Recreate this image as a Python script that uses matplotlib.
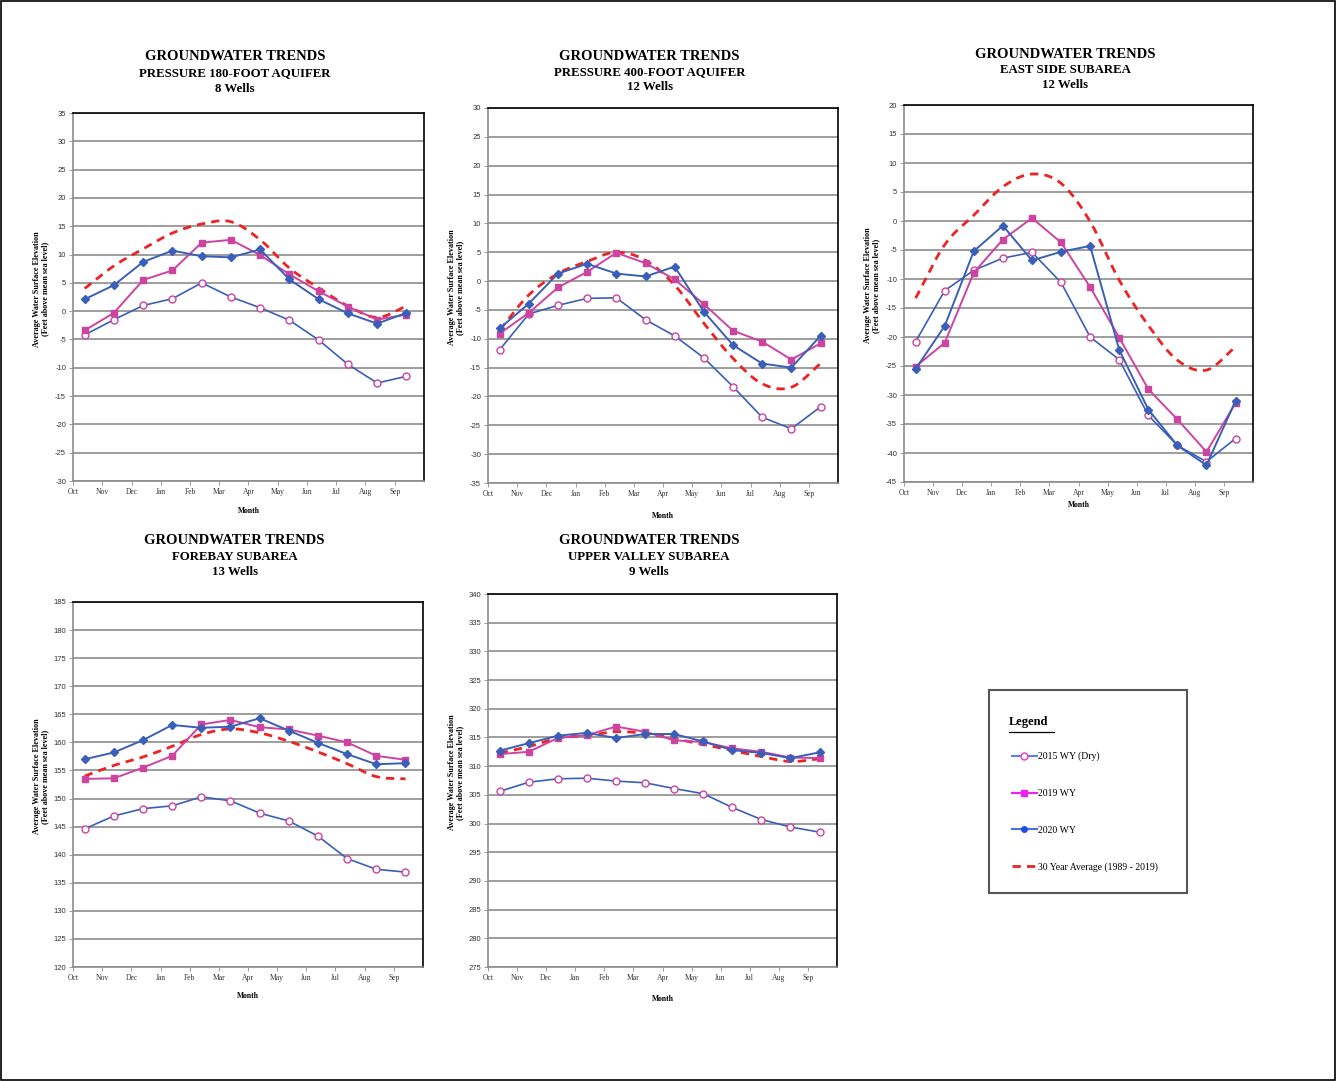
import numpy as np
import matplotlib
matplotlib.use("Agg")
import matplotlib.pyplot as plt
from matplotlib.lines import Line2D
from matplotlib.patches import Rectangle

plt.rcParams['axes.unicode_minus'] = False

W, H = 1336, 1081

months = ['Oct', 'Nov', 'Dec', 'Jan', 'Feb', 'Mar', 'Apr', 'May', 'Jun', 'Jul', 'Aug', 'Sep']
series_labels = ['2015 WY (Dry)', '2019 WY', '2020 WY', '30 Year Average (1989 - 2019)']

# Pressure 180-Foot Aquifer
p180_2015 = [-4.2, -1.5, 1.0, 2.2, 5.0, 2.5, 0.6, -1.6, -5.1, -9.4, -12.7, -11.5]
p180_2019 = [-3.4, -0.3, 5.5, 7.2, 12.1, 12.6, 9.9, 6.5, 3.5, 0.8, -1.5, -0.6]
p180_2020 = [2.1, 4.6, 8.7, 10.7, 9.7, 9.5, 10.9, 5.6, 2.1, -0.4, -2.2, -0.3]
p180_avg = [4.0, 8.0, 11.0, 13.8, 15.4, 15.8, 12.6, 7.6, 4.1, 0.9, -1.1, 0.9]

# Pressure 400-Foot Aquifer
p400_2015 = [-11.9, -5.7, -4.2, -3.0, -2.9, -6.7, -9.5, -13.3, -18.3, -23.6, -25.6, -21.8]
p400_2019 = [-9.1, -5.5, -1.1, 1.6, 4.9, 3.1, 0.3, -4.0, -8.6, -10.5, -13.6, -10.8]
p400_2020 = [-8.2, -3.9, 1.3, 3.0, 1.3, 0.8, 2.5, -5.3, -11.1, -14.3, -15.0, -9.5]
p400_avg = [-8.5, -2.4, 1.3, 3.4, 5.0, 3.6, -0.7, -7.3, -13.4, -17.8, -18.4, -14.3]

# East Side Subarea
east_2015 = [-20.8, -12.0, -8.5, -6.4, -5.4, -10.6, -20.0, -23.9, -33.5, -38.7, -41.5, -37.5]
east_2019 = [-25.1, -21.0, -8.9, -3.2, 0.5, -3.7, -11.4, -20.1, -29.0, -34.2, -39.8, -31.4]
east_2020 = [-25.5, -18.1, -5.2, -0.8, -6.8, -5.3, -4.3, -22.2, -32.5, -38.7, -42.1, -31.0]
east_avg = [-13.3, -4.1, 1.0, 5.9, 8.1, 6.5, -0.1, -10.2, -18.0, -24.0, -25.7, -21.7]

# Forebay Subarea
fore_2015 = [144.6, 146.9, 148.2, 148.7, 150.3, 149.6, 147.4, 146.0, 143.3, 139.3, 137.4, 136.9]
fore_2019 = [153.5, 153.6, 155.5, 157.6, 163.2, 164.0, 162.7, 162.3, 161.2, 160.0, 157.6, 156.9]
fore_2020 = [157.0, 158.2, 160.4, 163.1, 162.6, 162.8, 164.3, 162.1, 159.9, 157.9, 156.1, 156.3]
fore_avg = [154.0, 155.9, 157.4, 159.3, 161.4, 162.4, 161.7, 160.2, 158.3, 156.2, 153.9, 153.5]

# Upper Valley Subarea
upper_2015 = [305.6, 307.2, 307.8, 307.9, 307.4, 307.1, 306.1, 305.2, 302.8, 300.7, 299.4, 298.5]
upper_2019 = [312.1, 312.5, 314.9, 315.4, 316.9, 316.0, 314.5, 314.2, 313.1, 312.5, 311.5, 311.4]
upper_2020 = [312.7, 314.0, 315.3, 315.8, 314.9, 315.6, 315.6, 314.3, 312.8, 312.3, 311.4, 312.4]
upper_avg = [312.3, 313.4, 314.9, 315.3, 316.0, 315.7, 314.8, 313.8, 312.7, 311.7, 310.8, 311.3]

BLUE = '#3a5fb8'
MAGENTA = '#cc43a0'
RED = '#ee2222'
GRID = '#8c8c8c'
SERIF = 'Liberation Serif'
SANS = 'Liberation Sans'

panels = [
    dict(sub='PRESSURE 180-FOOT AQUIFER', wells='8 Wells', ylim=(-30, 35),
         data=(p180_2015, p180_2019, p180_2020, p180_avg),
         box=(73, 113, 424, 481), title_y=(57, 73, 89), month_y=511),
    dict(sub='PRESSURE 400-FOOT AQUIFER', wells='12 Wells', ylim=(-35, 30),
         data=(p400_2015, p400_2019, p400_2020, p400_avg),
         box=(488, 108, 838, 483), title_y=(56, 72, 87), month_y=516),
    dict(sub='EAST SIDE SUBAREA', wells='12 Wells', ylim=(-45, 20),
         data=(east_2015, east_2019, east_2020, east_avg),
         box=(904, 105, 1253, 482), title_y=(54, 70, 85), month_y=505),
    dict(sub='FOREBAY SUBAREA', wells='13 Wells', ylim=(120, 185),
         data=(fore_2015, fore_2019, fore_2020, fore_avg),
         box=(73, 602, 423, 967), title_y=(541, 557, 572), month_y=996),
    dict(sub='UPPER VALLEY SUBAREA', wells='9 Wells', ylim=(275, 340),
         data=(upper_2015, upper_2019, upper_2020, upper_avg),
         box=(488, 594, 837, 967), title_y=(541, 557, 572), month_y=999),
]


def fx(px):
    return px / W


def fy(py):
    return 1 - py / H


def smooth(x, y, n=20):
    # Catmull-Rom curve through the points, like Excel's smoothed line
    x = np.asarray(x, float)
    y = np.asarray(y, float)
    px = np.concatenate([[2 * x[0] - x[1]], x, [2 * x[-1] - x[-2]]])
    py = np.concatenate([[2 * y[0] - y[1]], y, [2 * y[-1] - y[-2]]])
    xs, ys = [], []
    t = np.linspace(0, 1, n, endpoint=False)
    for i in range(1, len(px) - 2):
        for arr, out in ((px, xs), (py, ys)):
            p0, p1, p2, p3 = arr[i - 1], arr[i], arr[i + 1], arr[i + 2]
            out.extend(0.5 * (2 * p1 + (-p0 + p2) * t + (2 * p0 - 5 * p1 + 4 * p2 - p3) * t ** 2
                              + (-p0 + 3 * p1 - 3 * p2 + p3) * t ** 3))
    xs.append(x[-1])
    ys.append(y[-1])
    return np.array(xs), np.array(ys)


fig = plt.figure(figsize=(W / 100, H / 100), dpi=100)
fig.patches.append(Rectangle((0.0008, 0.001), 0.9984, 0.998, transform=fig.transFigure,
                             fill=False, edgecolor='black', linewidth=1.2))

xpos = np.arange(12) + 0.4

for p in panels:
    l, t, r, b = p['box']
    ax = fig.add_axes([fx(l), fy(b), fx(r) - fx(l), fy(t) - fy(b)])
    d15, d19, d20, davg = p['data']

    sx, sy = smooth(xpos, davg)
    ax.plot(sx, sy, color=RED, lw=2.0, dashes=(3, 2.2), zorder=3)
    ax.plot(xpos, d15, color=BLUE, lw=1.2, marker='o', ms=5, mfc='white',
            mec=MAGENTA, mew=1.0, zorder=4)
    ax.plot(xpos, d19, color=MAGENTA, lw=1.4, marker='s', ms=5, mfc=MAGENTA,
            mec=MAGENTA, zorder=5)
    ax.plot(xpos, d20, color=BLUE, lw=1.4, marker='D', ms=4.5, mfc=BLUE,
            mec=BLUE, zorder=6)

    lo, hi = p['ylim']
    ax.set_ylim(lo, hi)
    ax.set_xlim(0, 12)
    ax.set_yticks(np.arange(lo, hi + 1, 5))
    ax.set_xticks(np.arange(12))
    ax.set_xticklabels(months)
    ax.tick_params(labelsize=5.5, length=3, width=0.6, color=GRID, pad=2, labelcolor='#333333')
    for lab in ax.get_xticklabels():
        lab.set_family(SERIF)
    for lab in ax.get_yticklabels():
        lab.set_family(SANS)
    ax.yaxis.grid(True, color=GRID, lw=1.2)
    ax.set_axisbelow(True)
    ax.spines['left'].set_color(GRID)
    ax.spines['bottom'].set_color(GRID)
    ax.spines['top'].set_color('black')
    ax.spines['right'].set_color('black')
    for s in ax.spines.values():
        s.set_linewidth(1.2)

    cx = fx((l + r) / 2) - 0.01
    ty = p['title_y']
    fig.text(cx, fy(ty[0]), 'GROUNDWATER TRENDS', ha='center', va='center',
             family=SERIF, weight='bold', fontsize=10.5)
    fig.text(cx, fy(ty[1]), p['sub'], ha='center', va='center',
             family=SERIF, weight='bold', fontsize=9.3)
    fig.text(cx, fy(ty[2]), p['wells'], ha='center', va='center',
             family=SERIF, weight='bold', fontsize=9.3)
    fig.text(fx((l + r) / 2), fy(p['month_y']), 'Month', ha='center', va='center',
             family=SERIF, weight='bold', fontsize=5.5)
    fig.text(fx(l - 32), fy((t + b) / 2 - 8), 'Average Water Surface Elevation\n(Feet above mean sea level)',
             ha='center', va='center', rotation=90, family=SERIF, weight='bold',
             fontsize=5.9, linespacing=1.05)

# legend box
lax = fig.add_axes([fx(989), fy(893), fx(1187) - fx(989), fy(690) - fy(893)])
lax.set_xticks([])
lax.set_yticks([])
for s in lax.spines.values():
    s.set_color('#555555')
    s.set_linewidth(1.5)
lax.text(0.1, 0.84, 'Legend', transform=lax.transAxes, family=SERIF, weight='bold',
         fontsize=9, ha='left', va='center')
lax.plot([0.1, 0.33], [0.795, 0.795], transform=lax.transAxes, color='black', lw=0.9)

handles = [
    Line2D([], [], color='#5a7ff0', lw=1.5, marker='o', ms=5, mfc='white', mec='#ee33cc', mew=1.0),
    Line2D([], [], color='#ee22ee', lw=1.5, marker='s', ms=5, mfc='#ee22ee', mec='#ee22ee'),
    Line2D([], [], color='#4a70e8', lw=1.5, marker='o', ms=4, mfc='#1f4fe0', mec='#1f4fe0'),
    Line2D([], [], color=RED, lw=2.0, dashes=(3, 2.2)),
]
lax.legend(handles, series_labels, loc='upper left', bbox_to_anchor=(0.095, 0.715),
           frameon=False, prop={'family': SERIF, 'size': 7}, labelspacing=2.85,
           handlelength=2.6, handletextpad=0.1, borderaxespad=0)

fig.savefig('out.png', dpi=100)
